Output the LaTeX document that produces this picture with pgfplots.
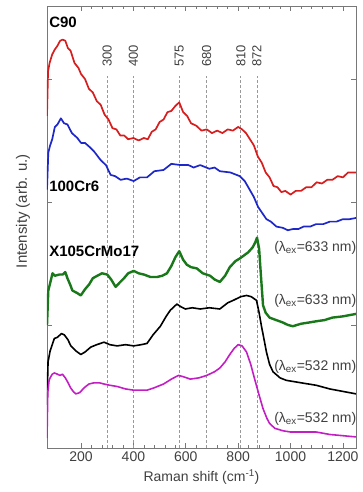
\documentclass[border=0pt]{standalone}
\usepackage{fontspec}
\setmainfont{Liberation Sans}
\usepackage{pgfplots}
\pgfplotsset{compat=1.18}
\definecolor{cred}{RGB}{215,30,30}
\definecolor{cblue}{RGB}{30,40,200}
\definecolor{cgreen}{RGB}{25,120,25}
\definecolor{cmag}{RGB}{195,30,195}
\definecolor{cframe}{RGB}{120,120,120}
\begin{document}
\begin{tikzpicture}
\begin{axis}[
  scale only axis, width=309pt, height=442pt,
  xmin=70, xmax=1250, ymin=0, ymax=3.593,
  xtick={200,400,600,800,1000,1200}, minor x tick num=4,
  ytick={1,2,3}, yticklabels={},
  tick align=inside, xtick pos=both, ytick pos=both,
  major tick length=5pt, minor tick length=3pt,
  axis line style={cframe, line width=0.8pt},
  every tick/.style={cframe, line width=0.6pt},
  /pgf/number format/assume math mode=true,
  /pgf/number format/1000 sep={},
  ticklabel style={font=\fontsize{14}{16}\selectfont, text=black!75},
  xlabel={Raman shift (cm\textsuperscript{-1})},
  ylabel={Intensity (arb. u.)},
  xlabel style={font=\fontsize{14}{16}\selectfont, text=black!75, at={(axis description cs:0.5,-0.066)}, anchor=center},
  ylabel style={font=\fontsize{15}{17}\selectfont, text=black!75, at={(axis description cs:-0.078,0.536)}, anchor=center},
  clip=true,
]
% reference lines
\foreach \xx in {300,400,575,680,810,872}{
  \edef\tmp{\noexpand\addplot[gray!80, densely dashed, line width=0.6pt, forget plot] coordinates {(\xx,0) (\xx,3.02)};}
  \tmp
}
% C90
\addplot[cred, line width=1.7pt, line join=round] coordinates {
(70,2.70) (74,3.06) (80,3.13) (90,3.20) (100,3.24) (110,3.27) (120,3.31) (130,3.32) (140,3.31) (150,3.25) (160,3.23) (175,3.13) (190,3.09) (200,3.04) (215,3.00) (230,2.92) (245,2.89) (260,2.82) (275,2.79) (290,2.71) (305,2.67) (320,2.60) (335,2.59) (350,2.54) (365,2.54) (380,2.51) (400,2.52) (420,2.50) (440,2.52) (455,2.51) (470,2.57) (485,2.59) (500,2.65) (515,2.67) (530,2.73) (545,2.74) (560,2.78) (575,2.81) (590,2.73) (605,2.70) (620,2.64) (640,2.62) (660,2.58) (680,2.59) (700,2.56) (720,2.58) (740,2.56) (760,2.59) (780,2.58) (800,2.61) (815,2.59) (830,2.56) (845,2.51) (860,2.46) (875,2.37) (890,2.32) (905,2.24) (920,2.20) (935,2.13) (950,2.12) (965,2.08) (980,2.09) (1000,2.06) (1020,2.09) (1040,2.09) (1060,2.12) (1080,2.12) (1100,2.16) (1120,2.15) (1140,2.18) (1160,2.18) (1180,2.21) (1200,2.20) (1220,2.24) (1250,2.24)
};
% 100Cr6
\addplot[cblue, line width=1.7pt, line join=round] coordinates {
(70,2.10) (75,2.40) (82,2.46) (90,2.51) (100,2.61) (110,2.63) (123,2.68) (135,2.64) (148,2.63) (165,2.56) (186,2.52) (200,2.48) (215,2.48) (231,2.45) (250,2.41) (275,2.34) (295,2.30) (313,2.22) (330,2.21) (351,2.18) (375,2.19) (401,2.17) (425,2.20) (452,2.20) (480,2.25) (515,2.26) (545,2.31) (579,2.30) (610,2.30) (630,2.28) (655,2.30) (690,2.27) (710,2.28) (730,2.25) (770,2.24) (806,2.21) (825,2.17) (844,2.10) (860,2.04) (876,1.96) (892,1.91) (908,1.86) (925,1.84) (946,1.80) (970,1.79) (990,1.77) (1009,1.78) (1030,1.78) (1050,1.80) (1075,1.80) (1098,1.82) (1125,1.82) (1150,1.84) (1175,1.84) (1200,1.86) (1225,1.86) (1250,1.87)
};
% X105CrMo17, 633 nm
\addplot[cgreen, line width=2.4pt, line join=round] coordinates {
(70,1.00) (75,1.28) (82,1.34) (91,1.42) (100,1.40) (117,1.41) (130,1.41) (140,1.43) (148,1.38) (160,1.32) (167,1.28) (185,1.26) (199,1.24) (215,1.29) (231,1.33) (245,1.38) (262,1.40) (280,1.42) (300,1.41) (315,1.37) (332,1.31) (350,1.35) (364,1.38) (380,1.42) (401,1.44) (420,1.42) (440,1.41) (465,1.39) (490,1.39) (510,1.40) (528,1.42) (545,1.48) (560,1.55) (575,1.60) (590,1.53) (604,1.49) (620,1.47) (642,1.46) (665,1.42) (693,1.40) (710,1.37) (730,1.35) (750,1.40) (768,1.47) (790,1.52) (806,1.54) (825,1.57) (838,1.59) (855,1.63) (865,1.67) (872,1.71) (880,1.62) (887,1.40) (895,1.16) (905,1.10) (920,1.06) (945,1.04) (971,1.02) (990,1.00) (1009,0.99) (1040,1.01) (1070,1.02) (1098,1.03) (1130,1.04) (1160,1.06) (1200,1.07) (1250,1.09)
};
% 633 nm (black)
\addplot[black, line width=1.6pt, line join=round] coordinates {
(70,0.35) (74,0.70) (82,0.79) (90,0.84) (98,0.89) (110,0.90) (125,0.93) (136,0.92) (150,0.88) (161,0.83) (180,0.79) (199,0.76) (215,0.78) (237,0.82) (260,0.84) (288,0.86) (310,0.84) (338,0.83) (370,0.84) (401,0.83) (430,0.84) (452,0.85) (475,0.92) (503,0.99) (525,1.07) (541,1.12) (566,1.17) (580,1.15) (598,1.13) (625,1.14) (655,1.13) (690,1.14) (730,1.13) (760,1.18) (781,1.20) (810,1.23) (832,1.24) (850,1.23) (870,1.20) (880,1.10) (889,0.99) (900,0.87) (908,0.78) (920,0.68) (933,0.62) (960,0.57) (984,0.55) (1040,0.53) (1098,0.51) (1150,0.48) (1200,0.46) (1250,0.44)
};
% 532 nm (magenta)
\addplot[cmag, line width=1.6pt, line join=round] coordinates {
(70,0.08) (73,0.45) (78,0.55) (82,0.57) (90,0.60) (98,0.61) (110,0.60) (120,0.59) (129,0.60) (140,0.57) (148,0.54) (160,0.49) (170,0.46) (180,0.44) (195,0.45) (212,0.49) (230,0.52) (250,0.53) (270,0.53) (288,0.52) (310,0.51) (338,0.50) (370,0.48) (401,0.47) (430,0.47) (452,0.47) (480,0.49) (515,0.52) (545,0.56) (572,0.59) (590,0.58) (617,0.56) (650,0.57) (680,0.59) (710,0.62) (730,0.65) (750,0.70) (768,0.76) (785,0.81) (800,0.84) (815,0.83) (832,0.78) (848,0.68) (863,0.56) (880,0.43) (895,0.32) (910,0.24) (920,0.20) (940,0.16) (971,0.14) (1000,0.13) (1050,0.13) (1098,0.13) (1150,0.11) (1200,0.10) (1250,0.09)
};
% peak labels
\foreach \xx in {300,400,575,680,810,872}{
  \edef\tmp{\noexpand\node[rotate=90, anchor=west, font=\noexpand\fontsize{13}{15}\noexpand\selectfont, text=black!75, inner sep=1pt] at (axis cs:\xx,3.09) {\xx};}
  \tmp
}
% sample labels
\node[anchor=west, font=\fontsize{15}{17}\selectfont\bfseries, inner sep=0pt] at (axis cs:78,3.46) {C90};
\node[anchor=west, font=\fontsize{15}{17}\selectfont\bfseries, inner sep=0pt] at (axis cs:78,2.13) {100Cr6};
\node[anchor=west, font=\fontsize{15}{17}\selectfont\bfseries, inner sep=0pt] at (axis cs:78,1.60) {X105CrMo17};
% excitation labels
\node[anchor=east, font=\fontsize{14}{16}\selectfont, text=black!75, inner sep=0pt] at (axis cs:1252,1.63) {(λ\textsubscript{ex}=633 nm)};
\node[anchor=east, font=\fontsize{14}{16}\selectfont, text=black!75, inner sep=0pt] at (axis cs:1252,1.195) {(λ\textsubscript{ex}=633 nm)};
\node[anchor=east, font=\fontsize{14}{16}\selectfont, text=black!75, inner sep=0pt] at (axis cs:1252,0.66) {(λ\textsubscript{ex}=532 nm)};
\node[anchor=east, font=\fontsize{14}{16}\selectfont, text=black!75, inner sep=0pt] at (axis cs:1252,0.235) {(λ\textsubscript{ex}=532 nm)};
\end{axis}
\pgfresetboundingbox
\path[use as bounding box] ([shift={(-47pt,-44pt)}]current axis.south west) rectangle ([shift={(7pt,6pt)}]current axis.north east);
\end{tikzpicture}
\end{document}
